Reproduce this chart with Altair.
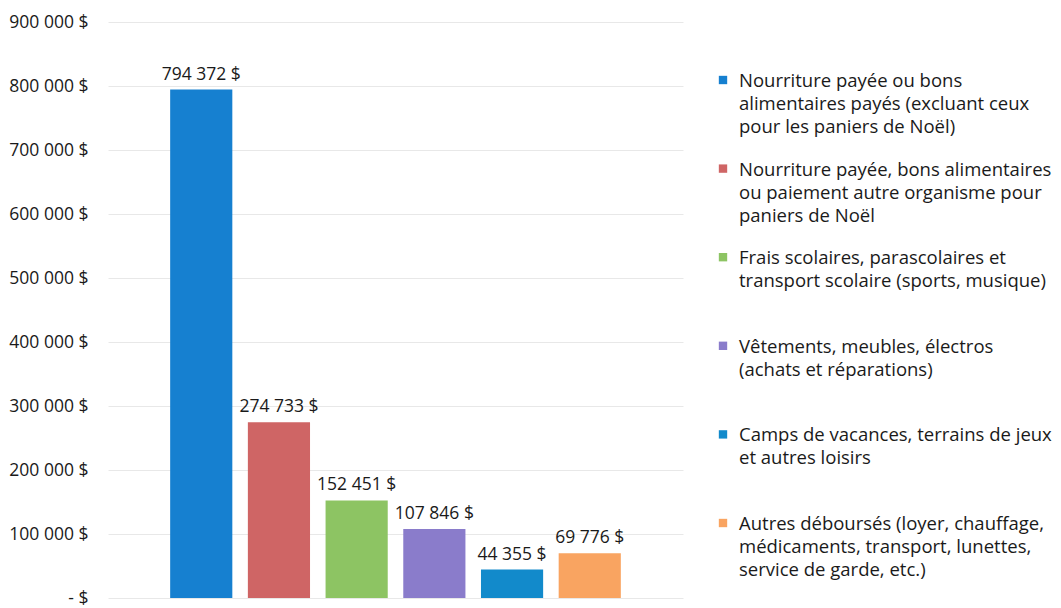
import altair as alt
import pandas as pd

categories = [
    "Nourriture payée ou bons\nalimentaires payés (excluant ceux\npour les paniers de Noël)",
    "Nourriture payée, bons alimentaires\nou paiement autre organisme pour\npaniers de Noël",
    "Frais scolaires, parascolaires et\ntransport scolaire (sports, musique)",
    "Vêtements, meubles, électros\n(achats et réparations)",
    "Camps de vacances, terrains de jeux\net autres loisirs",
    "Autres déboursés (loyer, chauffage,\nmédicaments, transport, lunettes,\nservice de garde, etc.)",
]
values = [794372, 274733, 152451, 107846, 44355, 69776]
colors = ["#1680D0", "#CF6565", "#8DC463", "#8A7CCB", "#128ACB", "#F9A461"]

FONT = "Open Sans"
TXT = "#1a1a1a"

df = pd.DataFrame({
    "idx": list(range(len(categories))),
    "cat": categories,
    "val": values,
    "color": colors,
})
df["label"] = df["val"].apply(lambda v: f"{v:,}".replace(",", " ") + " $")

base = alt.Chart(df)
x = alt.X("idx:O", axis=None, scale=alt.Scale(paddingInner=0.2, paddingOuter=0.8))
y = alt.Y(
    "val:Q",
    scale=alt.Scale(domain=[0, 900000]),
    axis=alt.Axis(
        values=[i * 100000 for i in range(10)],
        labelExpr="datum.value == 0 ? '- $' : format(datum.value / 1000, 'd') + ' 000 $'",
        title=None, ticks=False, domain=False,
        labelFont=FONT, labelFontSize=17.5, labelColor=TXT, labelPadding=20,
        gridColor="#e8e8e8", gridWidth=1,
    ),
)
bars = base.mark_bar().encode(x=x, y=y, color=alt.Color("color:N", scale=None))
labels = base.mark_text(baseline="bottom", dy=-6, font=FONT, fontSize=17.5, color=TXT).encode(
    x=x, y=y, text="label:N"
)
left = (bars + labels).properties(width=575, height=576)

ly = alt.Y("idx:O", axis=None, scale=alt.Scale(type="point", range=[58, 501], padding=0))
sq = base.mark_square(size=70, opacity=1).encode(
    x=alt.value(10), y=ly, color=alt.Color("color:N", scale=None)
)
txt = base.mark_text(align="left", baseline="top", dy=-8, lineBreak="\n", lineHeight=23,
                     font=FONT, fontSize=18.5, color=TXT).encode(
    x=alt.value(26), y=ly, text="cat:N"
)
right = (sq + txt).properties(width=320, height=576)

chart = alt.hconcat(left, right, spacing=30).properties(
    padding={"top": 5, "left": 0, "right": 0, "bottom": 5}
).configure_view(stroke=None)

chart.save("out.html", embed_options={"renderer": "svg", "actions": False})
